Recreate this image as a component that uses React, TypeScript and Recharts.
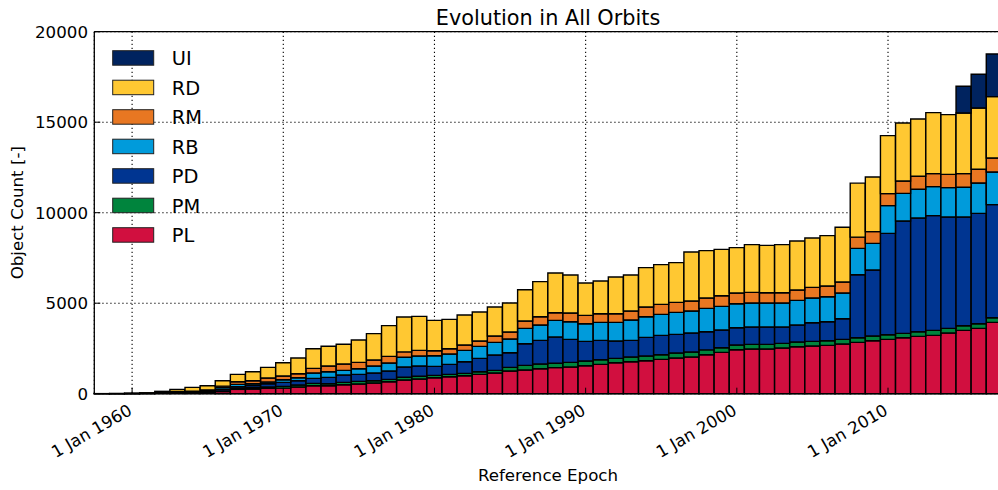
import React from 'react';
import { BarChart, Bar, XAxis, YAxis, CartesianGrid, Legend, ReferenceLine } from 'recharts';

const FONT = '"DejaVu Sans", Verdana, sans-serif';

const years = [1958, 1959, 1960, 1961, 1962, 1963, 1964, 1965, 1966, 1967,
  1968, 1969, 1970, 1971, 1972, 1973, 1974, 1975, 1976, 1977,
  1978, 1979, 1980, 1981, 1982, 1983, 1984, 1985, 1986, 1987,
  1988, 1989, 1990, 1991, 1992, 1993, 1994, 1995, 1996, 1997,
  1998, 1999, 2000, 2001, 2002, 2003, 2004, 2005, 2006, 2007,
  2008, 2009, 2010, 2011, 2012, 2013, 2014, 2015, 2016, 2017];

const PL = [1, 2, 5, 12, 20, 30, 50, 70, 120, 240,
  258, 295, 310, 368, 442, 442, 497, 534, 589, 663,
  760, 810, 884, 939, 995, 1068, 1142, 1253, 1308, 1382,
  1440, 1474, 1547, 1621, 1713, 1768, 1824, 1897, 1971, 2026,
  2155, 2284, 2431, 2468, 2468, 2524, 2597, 2634, 2671, 2745,
  2837, 2929, 3002, 3095, 3168, 3224, 3352, 3500, 3610, 3942];

const PM = [0, 0, 0, 1, 0, 10, 15, 20, 30, 55,
  74, 73, 92, 111, 129, 111, 129, 148, 129, 129,
  150, 150, 129, 129, 129, 148, 148, 202, 258, 257,
  245, 258, 258, 258, 240, 258, 257, 258, 276, 277,
  265, 258, 258, 258, 258, 257, 258, 258, 258, 258,
  258, 258, 258, 239, 258, 276, 258, 258, 258, 258];

const PD = [0, 1, 3, 6, 10, 30, 25, 40, 90, 92,
  120, 184, 224, 239, 277, 350, 406, 386, 424, 461,
  564, 569, 497, 553, 644, 737, 847, 811, 1197, 1308,
  1445, 1271, 1087, 1068, 957, 921, 1032, 1069, 1032, 1049,
  1006, 976, 958, 958, 958, 903, 940, 1031, 1050, 1142,
  3475, 3647, 5600, 6208, 6281, 6336, 6153, 6005, 6097, 6244];

const RB = [1, 2, 5, 10, 20, 30, 25, 40, 98, 129,
  100, 93, 148, 166, 294, 313, 258, 314, 387, 442,
  536, 552, 590, 571, 627, 663, 700, 755, 847, 848,
  920, 976, 976, 995, 1032, 1124, 1142, 1160, 1216, 1216,
  1289, 1308, 1326, 1326, 1326, 1326, 1363, 1364, 1381, 1418,
  1461, 1473, 1529, 1528, 1585, 1603, 1621, 1639, 1677, 1805];

const RM = [0, 0, 1, 3, 10, 20, 20, 40, 80, 147,
  165, 221, 202, 221, 258, 313, 350, 350, 332, 368,
  300, 314, 276, 295, 294, 294, 350, 387, 406, 460,
  425, 479, 461, 479, 479, 497, 534, 553, 552, 553,
  570, 589, 590, 590, 571, 571, 571, 589, 590, 608,
  619, 645, 663, 682, 718, 718, 736, 755, 755, 774];

const RD = [1, 2, 4, 15, 70, 120, 215, 232, 300, 405,
  492, 586, 736, 866, 1084, 1089, 1088, 1236, 1457, 1696,
  1927, 1878, 1676, 1621, 1658, 1603, 1602, 1602, 1731, 1935,
  2195, 2100, 1787, 1805, 2026, 1990, 2174, 2192, 2192, 2708,
  2617, 2561, 2505, 2634, 2616, 2653, 2707, 2726, 2781, 3021,
  2982, 3021, 3205, 3205, 3168, 3371, 3298, 3353, 3389, 3389];

const UI = [0, 0, 0, 0, 0, 0, 0, 0, 0, 0,
  0, 0, 0, 0, 0, 0, 0, 0, 0, 0,
  0, 0, 0, 0, 0, 0, 0, 0, 0, 0,
  0, 0, 0, 0, 0, 0, 0, 0, 0, 0,
  0, 0, 0, 0, 0, 0, 0, 0, 0, 0,
  0, 0, 0, 0, 0, 0, 0, 1473, 1860, 2358];

const tickYears = [1960, 1970, 1980, 1990, 2000, 2010];
const yTicks = [0, 5000, 10000, 15000, 20000];

const series = [
  { key: 'PL', values: PL, color: '#D10F3F' },
  { key: 'PM', values: PM, color: '#00843D' },
  { key: 'PD', values: PD, color: '#003591' },
  { key: 'RB', values: RB, color: '#009BDB' },
  { key: 'RM', values: RM, color: '#E87722' },
  { key: 'RD', values: RD, color: '#FFC832' },
  { key: 'UI', values: UI, color: '#00235F' },
];

const data = years.map((year, i) => {
  const row: any = { year };
  series.forEach((s) => { row[s.key] = s.values[i]; });
  return row;
});

const XTick = (props: any) => {
  const { x, y, payload } = props;
  const ax = x + 1;
  const ay = y + 20;
  return (
    <g>
      <line x1={x} y1={y} x2={x} y2={y - 6} stroke="#000" strokeWidth={1} />
      <text x={ax} y={ay} transform={`rotate(-30, ${ax}, ${ay})`} textAnchor="end"
        fontSize={16.67} fontFamily={FONT} fill="#000">{`1 Jan ${payload.value}`}</text>
    </g>
  );
};

const YTick = (props: any) => {
  const { x, y, payload } = props;
  return (
    <g>
      <line x1={x} y1={y} x2={x + 6} y2={y} stroke="#000" strokeWidth={1} />
      <text x={x - 6.3} y={y} dy="0.36em" textAnchor="end" fontSize={16.67}
        fontFamily={FONT} fill="#000">{payload.value}</text>
    </g>
  );
};

const legendItems = [...series].reverse();

const LegendContent = () => (
  <svg width={130} height={200} style={{ display: 'block', overflow: 'visible' }}>
    {legendItems.map((s, i) => (
      <g key={s.key}>
        <rect x={0.7} y={0.7 + i * 29.5} width={41} height={14.5} fill={s.color}
          stroke="#222" strokeWidth={1} />
        <text x={59.7} y={8 + i * 29.5 + 7} fontSize={19.4} fontFamily={FONT}
          fill="#000">{s.key}</text>
      </g>
    ))}
  </svg>
);

export default function App() {
  return (
    <div style={{ position: 'absolute', left: 0, top: 0, width: 998, height: 490, overflow: 'hidden', background: '#fff' }}>
      <BarChart
        width={1010}
        height={490}
        data={data}
        margin={{ top: 31.7, right: 8.6, bottom: 0, left: 0 }}
        barCategoryGap={0}
        barGap={0}
      >
        <CartesianGrid stroke="#000" strokeDasharray="1.3 2.7" strokeWidth={1.1} />
        <XAxis
          dataKey="year"
          type="category"
          ticks={tickYears}
          interval={0}
          height={96.3}
          tickSize={0}
          tickMargin={0}
          tickLine={false}
          axisLine={{ stroke: '#000', strokeWidth: 1.3 }}
          tick={<XTick />}
        />
        <YAxis
          type="number"
          domain={[0, 20000]}
          ticks={yTicks}
          interval={0}
          width={94.3}
          tickSize={0}
          tickMargin={0}
          tickLine={false}
          axisLine={{ stroke: '#000', strokeWidth: 1.3 }}
          tick={<YTick />}
        />
        <ReferenceLine y={20000} stroke="#000" strokeWidth={1.3} />
        {series.map((s) => (
          <Bar key={s.key} dataKey={s.key} name={s.key} stackId="a" fill={s.color}
            stroke="#000" strokeWidth={1.4} isAnimationActive={false} />
        ))}
        <Legend
          layout="horizontal"
          verticalAlign="middle"
          align="center"
          content={<LegendContent />}
          wrapperStyle={{ left: 112, top: 50, width: 130, height: 200 }}
        />
      </BarChart>
      <svg width={998} height={490} style={{ position: 'absolute', left: 0, top: 0, pointerEvents: 'none' }}>
        <text x={548} y={25} textAnchor="middle" fontSize={20.8} fontFamily={FONT} fill="#000">Evolution in All Orbits</text>
        <text x={23.5} y={212.7} transform="rotate(-90, 23.5, 212.7)" textAnchor="middle" fontSize={16.67} fontFamily={FONT} fill="#000">Object Count [-]</text>
        <text x={548} y={481} textAnchor="middle" fontSize={16.67} fontFamily={FONT} fill="#000">Reference Epoch</text>
      </svg>
    </div>
  );
}
